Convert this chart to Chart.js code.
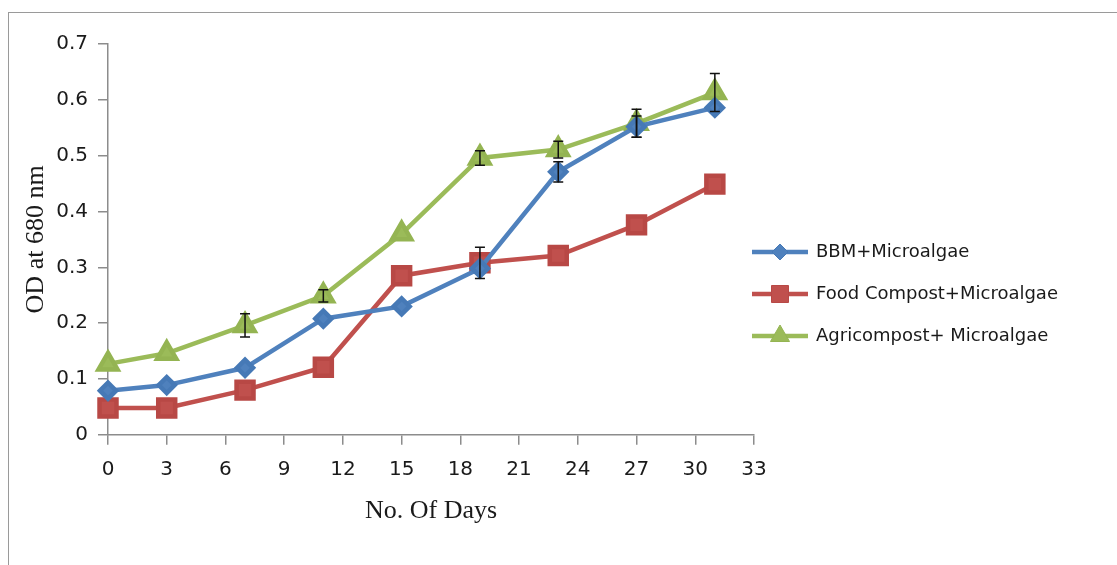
<!DOCTYPE html>
<html>
<head>
<meta charset="utf-8">
<script src="https://cdn.jsdelivr.net/npm/chart.js@4.4.0/dist/chart.umd.min.js"></script>
<style>
  html, body { margin: 0; padding: 0; background: #fff; overflow: hidden; }
  #frame { position: absolute; left: 8px; top: 12px; width: 1300px; height: 700px;
           border-top: 1.5px solid #9a9a9a; border-left: 1.5px solid #9a9a9a; }
  #wrap { position: absolute; left: 0; top: 0; width: 1117px; height: 565px; }
</style>
</head>
<body>
<div id="frame"></div>
<div id="wrap"><canvas id="growthChart"></canvas></div>
<script>
var days = [0, 3, 7, 11, 15, 19, 23, 27, 31];
var bbm  = [0.079, 0.089, 0.120, 0.208, 0.230, 0.298, 0.471, 0.552, 0.586];
var food = [0.048, 0.048, 0.080, 0.121, 0.285, 0.308, 0.321, 0.376, 0.449];
var agri = [0.127, 0.146, 0.196, 0.249, 0.360, 0.496, 0.511, 0.558, 0.613];

// standard deviation shown as error bars
var bbmErr  = [0, 0, 0, 0, 0, 0, 0.018, 0.019, 0];
var foodErr = [0, 0, 0, 0, 0, 0.028, 0, 0, 0];
var agriErr = [0, 0, 0.021, 0.011, 0, 0.013, 0.015, 0.025, 0.034];

var seriesLabels = ['BBM+Microalgae', 'Food Compost+Microalgae', 'Agricompost+ Microalgae'];

function pts(vals) {
    return days.map(function (d, i) { return { x: d, y: vals[i] }; });
}

var errorBars = {
    id: 'errorBars',
    afterDatasetsDraw: function (chart) {
        var ctx = chart.ctx;
        var xs = chart.scales.x, ys = chart.scales.y;
        ctx.save();
        ctx.strokeStyle = '#111';
        ctx.lineWidth = 1.5;
        chart.data.datasets.forEach(function (ds) {
            ds.errors.forEach(function (e, i) {
                if (!e) return;
                var px = xs.getPixelForValue(ds.data[i].x);
                var top = ys.getPixelForValue(ds.data[i].y + e);
                var bot = ys.getPixelForValue(ds.data[i].y - e);
                ctx.beginPath();
                ctx.moveTo(px, top); ctx.lineTo(px, bot);
                ctx.moveTo(px - 5, top); ctx.lineTo(px + 5, top);
                ctx.moveTo(px - 5, bot); ctx.lineTo(px + 5, bot);
                ctx.stroke();
            });
        });
        ctx.restore();
    }
};

var lineLegend = {
    id: 'lineLegend',
    afterDraw: function (chart) {
        var ctx = chart.ctx;
        var x0 = 752, y0 = 252, gap = 42;
        ctx.save();
        chart.data.datasets.forEach(function (ds, i) {
            var y = y0 + i * gap;
            ctx.strokeStyle = ds.borderColor;
            ctx.lineWidth = 4.5;
            ctx.beginPath();
            ctx.moveTo(x0, y); ctx.lineTo(x0 + 56, y);
            ctx.stroke();
            ctx.fillStyle = ds.pointBackgroundColor;
            ctx.strokeStyle = ds.pointBorderColor;
            ctx.lineWidth = 1;
            Chart.helpers.drawPoint(ctx, {
                pointStyle: ds.pointStyle, radius: ds.pointRadius, borderWidth: 1
            }, x0 + 28, y);
            ctx.fillStyle = '#1a1a1a';
            ctx.font = '18px "DejaVu Sans"';
            ctx.textBaseline = 'middle';
            ctx.fillText(ds.label, x0 + 64, y);
        });
        ctx.restore();
    }
};

var ctx = document.getElementById('growthChart');
var GrowthChart = new Chart(ctx, {
    type: 'line',
    data: {
        datasets: [{
            label: seriesLabels[0],
            data: pts(bbm),
            errors: bbmErr,
            borderColor: '#4F81BD',
            pointBackgroundColor: '#4F81BD',
            pointBorderColor: '#4679b6',
            pointStyle: 'rectRot',
            pointRadius: 8,
            borderWidth: 4.5,
            clip: false
        }, {
            label: seriesLabels[1],
            data: pts(food),
            errors: foodErr,
            borderColor: '#C0504D',
            pointBackgroundColor: '#C0504D',
            pointBorderColor: '#b84845',
            pointStyle: 'rect',
            pointRadius: 12,
            borderWidth: 4.5,
            clip: false
        }, {
            label: seriesLabels[2],
            data: pts(agri),
            errors: agriErr,
            borderColor: '#9BBB59',
            pointBackgroundColor: '#9BBB59',
            pointBorderColor: '#94b452',
            pointStyle: 'triangle',
            pointRadius: 11,
            borderWidth: 4.5,
            clip: false
        }]
    },
    options: {
        responsive: true,
        maintainAspectRatio: false,
        animation: false,
        layout: { padding: { left: 17, top: 44, right: 363, bottom: 38 } },
        plugins: {
            legend: { display: false },
            tooltip: { enabled: false }
        },
        elements: { line: { tension: 0 }, point: { borderWidth: 1 } },
        scales: {
            x: {
                type: 'linear',
                min: 0, max: 33,
                ticks: { stepSize: 3, padding: 13, color: '#1a1a1a', font: { family: 'DejaVu Sans', size: 20 } },
                grid: { drawOnChartArea: false, tickLength: 10, color: '#8c8c8c', lineWidth: 1.5 },
                border: { color: '#8c8c8c', width: 1.5 },
                title: {
                    display: true, text: 'No. Of Days', color: '#1a1a1a',
                    font: { family: 'Liberation Serif', size: 26 },
                    padding: { top: 1, bottom: 0 }
                }
            },
            y: {
                min: 0, max: 0.7,
                afterFit: function (scale) { scale.width = 91; },
                ticks: { stepSize: 0.1, padding: 10, color: '#1a1a1a', font: { family: 'DejaVu Sans', size: 20 } },
                grid: { drawOnChartArea: false, tickLength: 10, color: '#8c8c8c', lineWidth: 1.5 },
                border: { color: '#8c8c8c', width: 1.5 },
                title: {
                    display: true, text: 'OD at 680 nm', color: '#1a1a1a',
                    font: { family: 'Liberation Serif', size: 26 },
                    padding: { top: 4, bottom: 4 }
                }
            }
        }
    },
    plugins: [errorBars, lineLegend]
});
</script>
</body>
</html>
